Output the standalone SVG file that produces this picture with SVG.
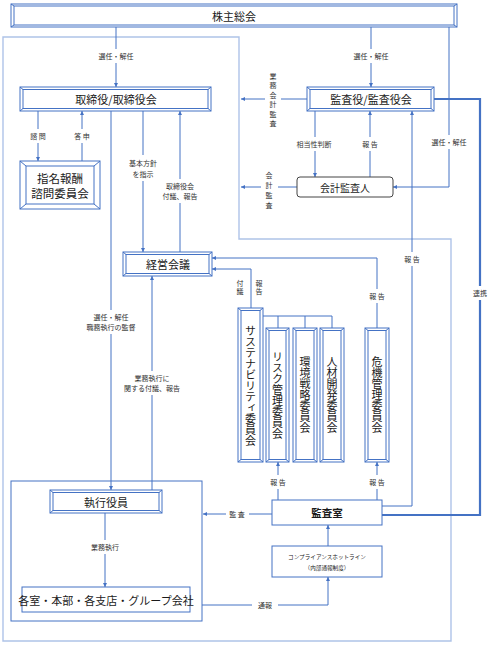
<svg xmlns="http://www.w3.org/2000/svg" width="491" height="645" viewBox="0 0 491 645">
<defs>
<marker id="a" viewBox="0 0 6 6" refX="6" refY="3" markerWidth="4" markerHeight="4" orient="auto" markerUnits="userSpaceOnUse">
<path d="M0,0 L6,3 L0,6 z" fill="#4472c4"/>
</marker>
</defs>
<style>
text{font-family:"Noto Sans CJK JP","Noto Sans CJK SC",sans-serif;fill:#1a1a1a;text-anchor:middle;dominant-baseline:central}
.b{fill:#fff;stroke:#4472c4;stroke-width:1}
.bi{fill:none;stroke:#4472c4;stroke-width:1}
.c{fill:none;stroke:#4472c4;stroke-width:1}
.ca{fill:none;stroke:#4472c4;stroke-width:1;marker-end:url(#a)}
.thick{fill:none;stroke:#4472c4;stroke-width:2.2}
.frame{fill:none;stroke:#aec3e8;stroke-width:1.4}
.lbl{font-size:7px;fill:#333}
.lv{font-size:7px;fill:#333;writing-mode:vertical-rl}
.m{font-size:11px}
.v{writing-mode:vertical-rl;font-size:11px}
</style>

<path class="frame" d="M3,37 H239 V239 H451 V641 H3 Z"/>

<g id="connectors">
<path class="ca" d="M116,27 V49 M116,63 V87"/>
<path class="ca" d="M371,27 V49 M371,63 V87"/>
<path class="ca" d="M449,27 V135 M449,149 V187 H393"/>
<path class="ca" d="M307,99 H281 M265,99 H241"/>
<path class="ca" d="M297,187 H278 M261,187 H241"/>
<path class="ca" d="M315,111 V137 M315,151 V177"/>
<path class="ca" d="M370,177 V151 M370,137 V111"/>
<path class="ca" d="M382,506 H412 V266 M412,252 V111"/>
<path class="thick" d="M434,99 H480 V286 M480,300 V515 H382"/>
<path class="ca" d="M38,111 V129 M38,143 V161"/>
<path class="ca" d="M82,161 V143 M82,129 V111"/>
<path class="ca" d="M111,111 V310 M111,334 V490"/>
<path class="ca" d="M143,111 V155 M143,181 V252"/>
<path class="ca" d="M180,252 V203 M180,179 V111"/>
<path class="ca" d="M152,490 V395 M152,371 V276"/>
<path class="ca" d="M377,328 V303 M377,289 V258 H212"/>
<path class="ca" d="M251,308 V269 H212"/>
<path class="c" d="M263,316 H332 M278,316 V328 M305,316 V328 M332,316 V328"/>
<path class="ca" d="M278,500 V489 M278,475 V462"/>
<path class="ca" d="M377,500 V489 M377,475 V462"/>
<path class="ca" d="M272,514 H249 M226,514 H203"/>
<path class="ca" d="M328,546 V525"/>
<path class="ca" d="M202,605 H252 M278,605 H328 V577"/>
<path class="ca" d="M105,513 V540 M105,554 V587"/>
<g>
<text class="lbl" x="116" y="56">選任・解任</text>
<text class="lbl" x="371" y="56">選任・解任</text>
<text class="lbl" x="449" y="142">選任・解任</text>
<text class="lv" x="273" y="101" style="letter-spacing:2.5px">業務会計監査</text>
<text class="lv" x="269" y="192" style="letter-spacing:3px">会計監査</text>
<text class="lbl" x="314" y="144">相当性判断</text>
<text class="lbl" x="370" y="144">報 告</text>
<text class="lbl" x="412" y="259">報 告</text>
<text class="lbl" x="480" y="293">連携</text>
<text class="lbl" x="38" y="136">諮 問</text>
<text class="lbl" x="82" y="136">答 申</text>
<text class="lbl" x="111" y="322"><tspan x="111" dy="-5">選任・解任</tspan><tspan x="111" dy="10">職務執行の監督</tspan></text>
<text class="lbl" x="143" y="168.5"><tspan x="143" dy="-5.5">基本方針</tspan><tspan x="143" dy="11">を指示</tspan></text>
<text class="lbl" x="180" y="191"><tspan x="180" dy="-5">取締役会</tspan><tspan x="180" dy="10">付議、報告</tspan></text>
<text class="lbl" x="152" y="383"><tspan x="152" dy="-5">業務執行に</tspan><tspan x="152" dy="10">関する付議、報告</tspan></text>
<text class="lbl" x="377" y="296">報 告</text>
<text class="lv" x="240" y="287.5" style="letter-spacing:1px">付議</text>
<text class="lv" x="259" y="287.5" style="letter-spacing:1px">報告</text>
<text class="lbl" x="278" y="482">報 告</text>
<text class="lbl" x="377" y="482">報 告</text>
<text class="lbl" x="237" y="514">監 査</text>
<text class="lbl" x="265" y="605">通報</text>
<text class="lbl" x="105" y="547">業務執行</text>
</g>
</g>

<g id="kabunushi">
<rect class="b" x="11" y="4" width="446" height="23"/>
<rect class="bi" x="14" y="6" width="440" height="19"/>
<path class="bi" d="M11,4 L14,6 M457,4 L454,6 M11,27 L14,25 M457,27 L454,25"/>
<text class="m" x="234" y="15.5">株主総会</text>
</g>

<g id="torishimariyaku">
<rect class="b" x="20" y="87" width="191" height="24"/>
<rect class="bi" x="23" y="89.5" width="185" height="19"/>
<path class="bi" d="M20,87 L23,89.5 M211,87 L208,89.5 M20,111 L23,108.5 M211,111 L208,108.5"/>
<text class="m" x="116" y="99">取締役/取締役会</text>
</g>

<g id="kansayaku">
<rect class="b" x="307" y="87" width="127" height="24"/>
<rect class="bi" x="310" y="89.5" width="121" height="19"/>
<path class="bi" d="M307,87 L310,89.5 M434,87 L431,89.5 M307,111 L310,108.5 M434,111 L431,108.5"/>
<text class="m" x="371" y="99">監査役/監査役会</text>
</g>

<g id="shimei">
<rect class="b" x="20" y="161" width="80" height="48"/>
<rect class="bi" x="26" y="166" width="68" height="38"/>
<path class="bi" d="M20,161 L26,166 M100,161 L94,166 M20,209 L26,204 M100,209 L94,204"/>
<text x="60" y="185" style="font-size:11.5px"><tspan x="60" dy="-7">指名報酬</tspan><tspan x="60" dy="14.5">諮問委員会</tspan></text>
</g>

<g id="kaikei">
<rect x="297" y="177" width="96" height="20" rx="3" fill="#fff" stroke="#444" stroke-width="1"/>
<text x="345" y="187" style="font-size:10px">会計監査人</text>
</g>

<g id="keiei">
<rect class="b" x="123" y="252" width="89" height="24"/>
<rect class="bi" x="126" y="254.5" width="83" height="19"/>
<path class="bi" d="M123,252 L126,254.5 M212,252 L209,254.5 M123,276 L126,273.5 M212,276 L209,273.5"/>
<text class="m" x="168" y="264">経営会議</text>
</g>

<g id="sustainability">
<rect class="b" x="238" y="308" width="25" height="154"/>
<rect class="bi" x="241" y="310.5" width="19" height="149"/>
<path class="bi" d="M238,308 L241,310.5 M263,308 L260,310.5 M238,462 L241,459.5 M263,462 L260,459.5"/>
<text class="v" x="250.5" y="386">サステナビリティ委員会</text>
</g>

<g id="risk">
<rect class="b" x="266" y="328" width="23" height="134"/>
<rect class="bi" x="269" y="330.5" width="17" height="129"/>
<path class="bi" d="M266,328 L269,330.5 M289,328 L286,330.5 M266,462 L269,459.5 M289,462 L286,459.5"/>
<text class="v" x="277.5" y="395">リスク管理委員会</text>
</g>

<g id="kankyo">
<rect class="b" x="293" y="328" width="24" height="134"/>
<rect class="bi" x="296" y="330.5" width="18" height="129"/>
<path class="bi" d="M293,328 L296,330.5 M317,328 L314,330.5 M293,462 L296,459.5 M317,462 L314,459.5"/>
<text class="v" x="305" y="395">環境戦略委員会</text>
</g>

<g id="jinzai">
<rect class="b" x="320" y="328" width="24" height="134"/>
<rect class="bi" x="323" y="330.5" width="18" height="129"/>
<path class="bi" d="M320,328 L323,330.5 M344,328 L341,330.5 M320,462 L323,459.5 M344,462 L341,459.5"/>
<text class="v" x="332" y="395">人材開発委員会</text>
</g>

<g id="kiki">
<rect class="b" x="365" y="328" width="24" height="134"/>
<rect class="bi" x="368" y="330.5" width="18" height="129"/>
<path class="bi" d="M365,328 L368,330.5 M389,328 L386,330.5 M365,462 L368,459.5 M389,462 L386,459.5"/>
<text class="v" x="377" y="395">危機管理委員会</text>
</g>

<g id="kansashitsu">
<rect class="b" x="272" y="500" width="110" height="25"/>
<text x="327" y="512.5" style="font-size:10.5px;font-weight:bold">監査室</text>
</g>

<g id="hotline">
<rect class="b" x="272" y="546" width="110" height="31"/>
<text x="327" y="562" style="font-size:5.6px"><tspan x="327" dy="-5.5">コンプライアンスホットライン</tspan><tspan x="327" dy="11">（内部通報制度）</tspan></text>
</g>

<g id="shikko-area">
<rect class="c" x="11" y="481" width="191" height="140"/>
</g>

<g id="shikkoyakuin">
<rect class="b" x="50" y="490" width="112" height="23"/>
<rect class="bi" x="53" y="492.5" width="106" height="18"/>
<path class="bi" d="M50,490 L53,492.5 M162,490 L159,492.5 M50,513 L53,510.5 M162,513 L159,510.5"/>
<text class="m" x="106" y="501.5">執行役員</text>
</g>

<g id="kakushitsu">
<rect class="b" x="22" y="587" width="168" height="25"/>
<text x="106" y="599.5" style="font-size:11px">各室・本部・各支店・グループ会社</text>
</g>
</svg>
